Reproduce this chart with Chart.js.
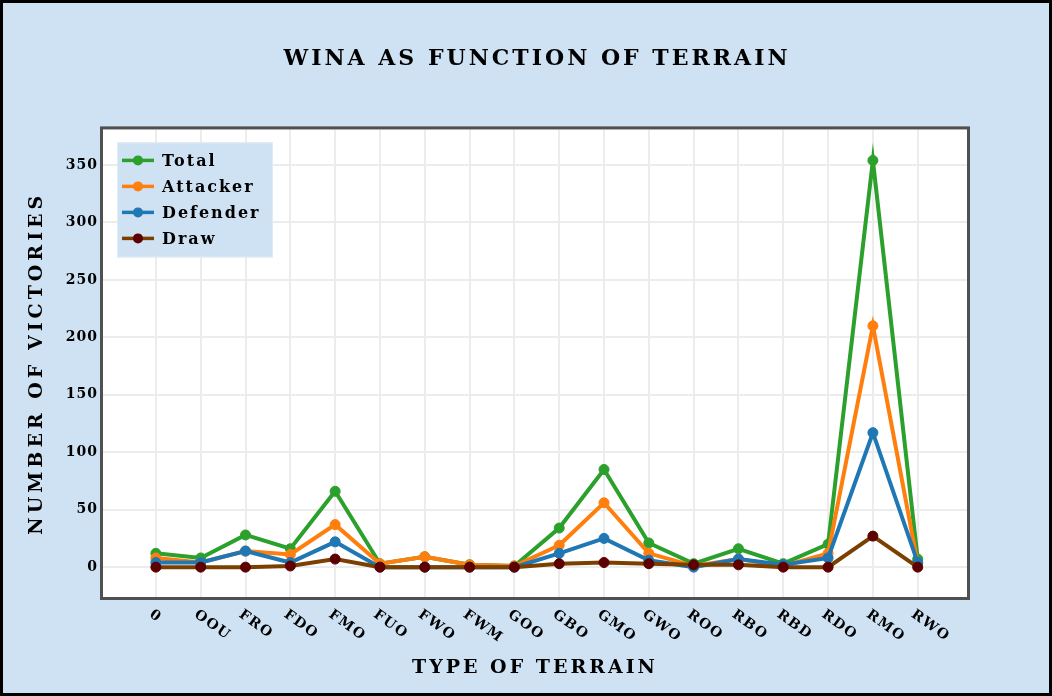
<!DOCTYPE html>
<html>
<head>
<meta charset="utf-8">
<script src="https://cdn.jsdelivr.net/npm/chart.js@4"></script>
<style>
  html, body { margin: 0; padding: 0; background: #cfe2f3; }
  #wrap { width: 1052px; height: 696px; box-sizing: border-box; border: 3px solid #000; background: #cfe2f3; }
  canvas { display: block; }
</style>
</head>
<body>
<div id="wrap"><canvas id="grafico" width="1046" height="690"></canvas></div>
<script>
// datos
const categories = ["0", "OOU", "FRO", "FDO", "FMO", "FUO", "FWO", "FWM", "GOO", "GBO", "GMO", "GWO", "ROO", "RBO", "RBD", "RDO", "RMO", "RWO"];
const total    = [12, 8, 28, 16, 66, 3, 9, 2, 1, 34, 85, 21, 3, 16, 3, 20, 354, 7];
const attacker = [8, 4, 14, 11, 37, 3, 9, 2, 1, 19, 56, 12, 1, 7, 1, 12, 210, 3];
const defender = [4, 4, 14, 4, 22, 0, 0, 0, 0, 12, 25, 6, 0, 7, 2, 8, 117, 4];
const draws    = [0, 0, 0, 1, 7, 0, 0, 0, 0, 3, 4, 3, 2, 2, 0, 0, 27, 0];
const yTicks = [0, 50, 100, 150, 200, 250, 300, 350];

const FONT = '"DejaVu Serif", serif';

function pts(arr) {
    return arr.map((v, i) => ({ x: i, y: v }));
}

// envuelve un metodo de dibujo para darle su propio espaciado de letras
function conEspaciado(obj, metodo, esp) {
    if (obj["_esp_" + metodo]) return;
    const orig = obj[metodo];
    obj[metodo] = function (...args) {
        const c = this.ctx;
        const prev = c.letterSpacing;
        c.letterSpacing = esp;
        orig.apply(this, args);
        c.letterSpacing = prev;
    };
    obj["_esp_" + metodo] = true;
}

// fondo blanco + espaciado de letras
const fondo = {
    id: "fondo",
    afterLayout(chart) {
        // centrar el titulo como en el original
        chart.titleBlock.left = 0;
        chart.titleBlock.right = 1068;
    },
    beforeDraw(chart) {
        const a = chart.chartArea, ctx = chart.ctx;
        ctx.save();
        ctx.fillStyle = "#ffffff";
        ctx.fillRect(a.left, a.top, a.right - a.left, a.bottom - a.top);
        ctx.restore();
        conEspaciado(chart.titleBlock, "draw", "3px");
        conEspaciado(chart.scales.y, "drawTitle", "4px");
        conEspaciado(chart.scales.x, "drawTitle", "3px");
        ctx.letterSpacing = "1px";
    },
    beforeDatasetsDraw(chart) {
        chart.ctx.letterSpacing = "0px";
    }
};

// marco, etiquetas x rotadas y leyenda
const extras = {
    id: "extras",
    afterDraw(chart) {
        const ctx = chart.ctx, a = chart.chartArea, sx = chart.scales.x;
        ctx.save();
        ctx.letterSpacing = "0px";
        ctx.strokeStyle = "#505050";
        ctx.lineWidth = 3;
        ctx.strokeRect(a.left - 1.5, a.top - 1.5, a.right - a.left + 3, a.bottom - a.top + 3);

        ctx.font = "bold 14px " + FONT;
        ctx.letterSpacing = "1.5px";
        ctx.fillStyle = "#000";
        ctx.textAlign = "left";
        ctx.textBaseline = "middle";
        categories.forEach((lab, i) => {
            ctx.save();
            ctx.translate(sx.getPixelForValue(i) - 5, a.bottom + 16);
            ctx.rotate(36 * Math.PI / 180);
            ctx.fillText(lab, 0, 0);
            ctx.restore();
        });

        // leyenda
        const bx = a.left + 14, by = a.top + 13;
        ctx.fillStyle = "#cfe2f3";
        ctx.fillRect(bx, by, 156, 115);
        ctx.strokeStyle = "#e0ecf7";
        ctx.lineWidth = 1;
        ctx.strokeRect(bx + 0.5, by + 0.5, 155, 114);
        ctx.font = "bold 16px " + FONT;
        ctx.letterSpacing = "2px";
        chart.data.datasets.forEach((ds, i) => {
            const y = by + 18 + i * 26;
            ctx.strokeStyle = ds.borderColor;
            ctx.lineWidth = 3.5;
            ctx.beginPath();
            ctx.moveTo(bx + 5, y);
            ctx.lineTo(bx + 37, y);
            ctx.stroke();
            ctx.fillStyle = ds.pointBackgroundColor;
            ctx.beginPath();
            ctx.arc(bx + 21, y, 5, 0, Math.PI * 2);
            ctx.fill();
            ctx.fillStyle = "#000";
            ctx.fillText(ds.label, bx + 45, y + 1);
        });
        ctx.restore();
    }
};

const ctx = document.getElementById("grafico").getContext("2d");

new Chart(ctx, {
    type: "line",
    data: {
        datasets: [
            { label: "Total", data: pts(total), borderColor: "#2ca02c", pointBackgroundColor: "#2ca02c", pointBorderColor: "#2ca02c", order: 4 },
            { label: "Attacker", data: pts(attacker), borderColor: "#ff7f0e", pointBackgroundColor: "#ff7f0e", pointBorderColor: "#ff7f0e", order: 3 },
            { label: "Defender", data: pts(defender), borderColor: "#1f77b4", pointBackgroundColor: "#1f77b4", pointBorderColor: "#1f77b4", order: 2 },
            { label: "Draw", data: pts(draws), borderColor: "#7b3f00", pointBackgroundColor: "#5c0000", pointBorderColor: "#5c0000", order: 1 }
        ]
    },
    options: {
        responsive: false,
        animation: false,
        elements: {
            line: { borderWidth: 4, tension: 0 },
            point: { radius: 5, borderWidth: 1 }
        },
        layout: { padding: { left: 20, right: 82, top: 0, bottom: 0 } },
        scales: {
            x: {
                type: "linear",
                min: -1.18,
                max: 18.1,
                afterBuildTicks(scale) {
                    scale.ticks = categories.map((c, i) => ({ value: i }));
                },
                afterFit(scale) { scale.height = 96; },
                ticks: { display: false },
                grid: { color: "#ececec", lineWidth: 2, drawTicks: false },
                border: { display: false },
                title: {
                    display: true,
                    text: "TYPE OF TERRAIN",
                    color: "#000",
                    font: { family: FONT, size: 19, weight: "bold" },
                    padding: { top: 0, bottom: 14 }
                }
            },
            y: {
                min: -26,
                max: 381,
                afterBuildTicks(scale) {
                    scale.ticks = yTicks.map(v => ({ value: v }));
                },
                afterFit(scale) { scale.width = 80; },
                ticks: {
                    color: "#000",
                    padding: 5,
                    font: { family: FONT, size: 14, weight: "bold" }
                },
                grid: { color: "#ececec", lineWidth: 2, drawTicks: false },
                border: { display: false },
                title: {
                    display: true,
                    text: "NUMBER OF VICTORIES",
                    color: "#000",
                    font: { family: FONT, size: 19, weight: "bold" },
                    padding: { top: 3, bottom: 0 }
                }
            }
        },
        plugins: {
            legend: { display: false },
            tooltip: { enabled: false },
            title: {
                display: true,
                text: "WINA AS FUNCTION OF TERRAIN",
                color: "#000",
                font: { family: FONT, size: 22, weight: "bold" },
                padding: { top: 43, bottom: 57 }
            }
        }
    },
    plugins: [fondo, extras]
});
</script>
</body>
</html>
